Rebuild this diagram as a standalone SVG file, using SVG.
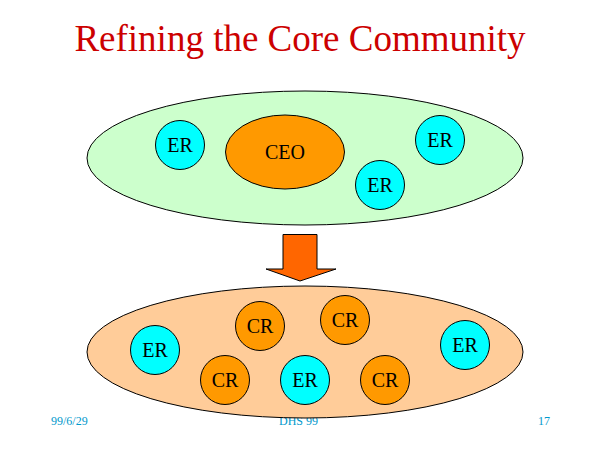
<svg xmlns="http://www.w3.org/2000/svg" width="600" height="450" viewBox="0 0 600 450">
<style>
.lbl{font-family:"Liberation Serif","Times New Roman",serif;font-size:20px;fill:#000;text-anchor:middle}
.foot{font-family:"Liberation Serif","Times New Roman",serif;font-size:12px;fill:#0099cc}
.er{fill:#00ffff;stroke:#000;stroke-width:1}
.cr{fill:#ff9900;stroke:#000;stroke-width:1}
</style>
<rect width="600" height="450" fill="#fff"/>
<text x="300" y="51" style="font-family:'Liberation Serif','Times New Roman',serif;font-size:37px;fill:#cc0000;text-anchor:middle">Refining the Core Community</text>
<text class="foot" x="51" y="425">99/6/29</text>
<text class="foot" x="279" y="425">DHS 99</text>
<text class="foot" x="538" y="425">17</text>
<g id="top-community">
<ellipse cx="305" cy="158" rx="218" ry="67" fill="#ccffcc" stroke="#000" stroke-width="1"/>
</g>
<g id="top-er1"><circle class="er" cx="180" cy="145" r="24.5"/><text class="lbl" x="180" y="152">ER</text></g>
<g id="ceo"><ellipse class="cr" cx="285" cy="152" rx="59.5" ry="37"/><text class="lbl" x="285" y="159">CEO</text></g>
<g id="top-er2"><circle class="er" cx="440" cy="140" r="24.5"/><text class="lbl" x="440" y="147">ER</text></g>
<g id="top-er3"><circle class="er" cx="380" cy="185" r="24.5"/><text class="lbl" x="380" y="192">ER</text></g>
<g id="connectors">
<polygon points="283,234.5 317,234.5 317,269 336,269 300,281 266,269 283,269" fill="#ff6600" stroke="#000" stroke-width="1"/>
</g>
<g id="bottom-community">
<ellipse cx="305" cy="352" rx="218" ry="66" fill="#ffcc99" stroke="#000" stroke-width="1"/>
</g>
<g id="bot-er1"><circle class="er" cx="155" cy="350" r="24.5"/><text class="lbl" x="155" y="357">ER</text></g>
<g id="bot-cr1"><circle class="cr" cx="260" cy="326" r="24.5"/><text class="lbl" x="260" y="333">CR</text></g>
<g id="bot-cr2"><circle class="cr" cx="345" cy="320" r="24.5"/><text class="lbl" x="345" y="327">CR</text></g>
<g id="bot-er2"><circle class="er" cx="465" cy="345" r="24.5"/><text class="lbl" x="465" y="352">ER</text></g>
<g id="bot-cr3"><circle class="cr" cx="225" cy="380" r="24.5"/><text class="lbl" x="225" y="387">CR</text></g>
<g id="bot-er3"><circle class="er" cx="305" cy="380" r="24.5"/><text class="lbl" x="305" y="387">ER</text></g>
<g id="bot-cr4"><circle class="cr" cx="385" cy="380" r="24.5"/><text class="lbl" x="385" y="387">CR</text></g>
</svg>
